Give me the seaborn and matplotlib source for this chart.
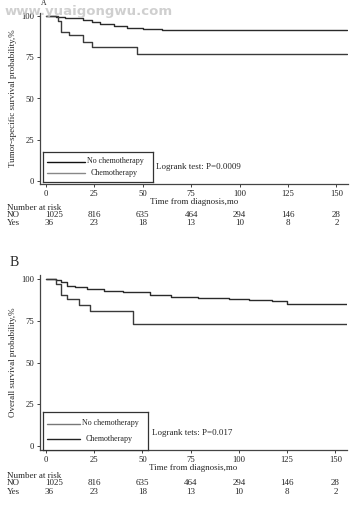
import matplotlib
matplotlib.use("Agg")
import matplotlib.pyplot as plt
import matplotlib.transforms as mtransforms
import seaborn as sns
import pandas as pd

# panel A: tumor-specific survival (step curves)
a_no_t = [0, 5, 10, 15, 19, 24, 28, 35, 42, 50, 60, 80, 100, 155.5]
a_no_s = [100, 99.5, 99, 98.5, 97.5, 96.5, 95, 94, 93, 92, 91.8, 91.5, 91.3, 91.3]
a_chemo_t = [0, 6, 8, 12, 19, 24, 47, 155.5]
a_chemo_s = [100, 97, 90.5, 88.5, 84.5, 81, 77, 77]

# panel B: overall survival
b_no_t = [0, 5, 8, 11, 15, 21, 30, 40, 54, 65, 79, 95, 105, 117, 125, 156]
b_no_s = [100, 99.5, 98, 96, 95.5, 94, 93, 92, 90.6, 89.5, 88.6, 88, 87.6, 86.6, 85.2, 85.2]
b_chemo_t = [0, 5, 8, 11, 17, 23, 45, 156]
b_chemo_s = [100, 97, 90.6, 88, 84.6, 81, 73.2, 73.2]

x_ticks = [0, 25, 50, 75, 100, 125, 150]
y_ticks = [0, 25, 50, 75, 100]
risk_no = [1025, 816, 635, 464, 294, 146, 28]
risk_yes = [36, 23, 18, 13, 10, 8, 2]

sns.set_style("ticks")
plt.rcParams["font.family"] = ["Liberation Serif", "DejaVu Serif"]

fig = plt.figure(figsize=(3.58, 5.08), dpi=100)
W, H = 358.0, 508.0


def panel(rect, no_t, no_s, ch_t, ch_s, ylim, ylabel, ptext, leg_box, ptext_xy,
          rows_y, legend_colors, line_end):
    ax = fig.add_axes(rect)
    df = pd.concat([
        pd.DataFrame({"t": no_t, "s": no_s, "g": "No chemotherapy"}),
        pd.DataFrame({"t": ch_t, "s": ch_s, "g": "Chemotherapy"}),
    ])
    sns.lineplot(data=df, x="t", y="s", hue="g", palette=["#2a2a2a", "#3a3a3a"],
                 drawstyle="steps-post", linewidth=1.0, legend=False, ax=ax,
                 estimator=None, sort=False)
    ax.set_xlim(-3.1, 156)
    ax.set_ylim(*ylim)
    ax.set_xticks(x_ticks)
    ax.set_yticks(y_ticks)
    ax.tick_params(labelsize=6.2, length=2, width=0.6, pad=2, colors="#222")
    for s in ["top", "right"]:
        ax.spines[s].set_visible(False)
    for s in ["left", "bottom"]:
        ax.spines[s].set_linewidth(0.9)
        ax.spines[s].set_color("#444")
    ax.set_xlabel("Time from diagnosis,mo", fontsize=6.5, labelpad=0)
    ax.set_ylabel(ylabel, fontsize=6.5, labelpad=3)

    # legend box
    lx0, ly0, lx1, ly1 = leg_box
    lw_px = lx1 - lx0
    lax = fig.add_axes([lx0 / W, 1 - ly1 / H, lw_px / W, (ly1 - ly0) / H])
    lax.set_xlim(0, lw_px)
    lax.set_ylim(0, 1)
    lax.set_xticks([])
    lax.set_yticks([])
    for s in lax.spines.values():
        s.set_linewidth(0.9)
        s.set_color("#333")
    lax.plot([4, line_end], [0.68, 0.68], color=legend_colors[0], lw=1.0)
    lax.plot([4, line_end], [0.30, 0.30], color=legend_colors[1], lw=1.0)
    lax.text(line_end + 2, 0.70, "No chemotherapy", fontsize=5.8, va="center")
    lax.text(line_end + 6, 0.30, "Chemotherapy", fontsize=5.8, va="center")
    fig.text(ptext_xy[0] / W, 1 - ptext_xy[1] / H, ptext, fontsize=6.5, va="center")

    # number at risk table
    tr = mtransforms.blended_transform_factory(ax.transData, fig.transFigure)
    fig.text(7 / W, 1 - rows_y[0] / H, "Number at risk", fontsize=6.5, va="center")
    fig.text(7 / W, 1 - rows_y[1] / H, "NO", fontsize=6.5, va="center")
    fig.text(7 / W, 1 - rows_y[2] / H, "Yes", fontsize=6.5, va="center")
    for i, (x, n, y) in enumerate(zip(x_ticks, risk_no, risk_yes)):
        xx = x + 4 if i == 0 else x
        ax.text(xx, 1 - rows_y[1] / H, str(n), transform=tr, fontsize=6.5,
                ha="center", va="center", clip_on=False)
        ax.text(x + 1.5 if i == 0 else x, 1 - rows_y[2] / H, str(y), transform=tr,
                fontsize=6.5, ha="center", va="center", clip_on=False)
    return ax


panel([40 / W, 1 - 184 / H, 308 / W, 171 / H], a_no_t, a_no_s, a_chemo_t, a_chemo_s,
      (-1.8, 101.8), "Tumor-specific survival probability,%",
      "Logrank test: P=0.0009", (43, 152, 153, 182), (156, 167),
      (208, 215, 223), ("#111", "#888"), 42)

panel([40 / W, 1 - 450 / H, 307 / W, 175 / H], b_no_t, b_no_s, b_chemo_t, b_chemo_s,
      (-2.4, 102.4), "Overall survival probability,%",
      "Logrank tets: P=0.017", (43, 412, 148, 450), (152, 433),
      (476, 483, 492), ("#777", "#222"), 37)

fig.text(41 / W, 1 - 3 / H, "A", fontsize=5.5, va="center")
fig.text(10 / W, 1 - 263 / H, "B", fontsize=10, va="center")
fig.text(5 / W, 1 - 11 / H, "www.yuaigongwu.com", fontsize=9.5, fontweight="bold",
         color="#c4c4c4", family="DejaVu Sans", va="center", alpha=0.8)

fig.savefig("out.png", dpi=100)
